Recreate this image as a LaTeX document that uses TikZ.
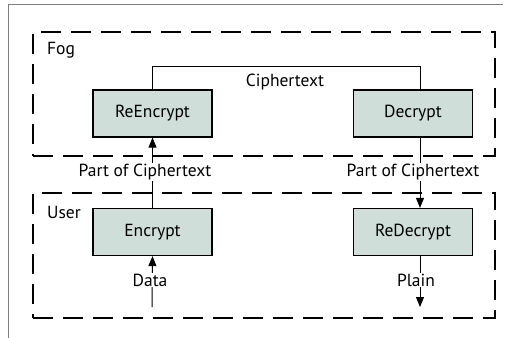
\documentclass[tikz,border=0pt]{standalone}
\usepackage{fontspec}
\setmainfont{PT Sans}
\usetikzlibrary{arrows.meta,positioning}
\definecolor{boxfill}{RGB}{207,222,217}
\definecolor{framegray}{RGB}{125,125,125}
\tikzset{
  block/.style={draw,line width=1.2pt,fill=boxfill,minimum width=119pt,minimum height=47pt,inner sep=0pt,font=\fontsize{17.5}{19}\selectfont},
  zone/.style={draw,line width=2.4pt,dash pattern=on 20pt off 10pt,minimum width=462pt,inner sep=0pt},
  lbl/.style={font=\fontsize{17.5}{19}\selectfont,inner sep=1pt},
  flow/.style={line width=1pt,-{Triangle[width=8pt,length=10pt]}},
}
\begin{document}
\begin{tikzpicture}[x=1pt,y=-1pt]
\useasboundingbox (0,0) rectangle (507,338);

% outer frame
\draw [framegray,line width=1pt] (503,4) -- (8,4) -- (8,338);

% zones
\node (fog) [zone,minimum height=124pt] at (264,94) {};
\node (user) [zone,minimum height=125pt] at (264,255.5) {};
\node [lbl,anchor=west] at (46,50) {Fog};
\node [lbl,anchor=west] at (46,212) {User};

% blocks
\node (reenc) [block] at (152.5,113.5) {ReEncrypt};
\node (dec) [block] at (413,113.5) {Decrypt};
\node (enc) [block] at (152.5,232) {Encrypt};
\node (redec) [block] at (413,232) {ReDecrypt};

\coordinate (datain) at (152,307);
\coordinate (plainout) at (420,307);

% connectors
\draw [line width=1pt] (reenc.north) -- ++(0,-23) -| ([xshift=7pt]dec.north);
\node [lbl] at (285,82) {Ciphertext};

\draw [flow] (enc.north) -- (reenc.south);
\node [lbl,fill=white] at (145,172) {Part of Ciphertext};

\draw [flow] ([xshift=7pt]dec.south) -- ([xshift=7pt]redec.north);
\node [lbl,fill=white] at (413,172) {Part of Ciphertext};

\draw [flow] (datain) -- (enc.south);
\node [lbl,fill=white] at (150,280) {Data};

\draw [flow] ([xshift=7pt]redec.south) -- (plainout);
\node [lbl,fill=white] at (416,280) {Plain};

\end{tikzpicture}
\end{document}
